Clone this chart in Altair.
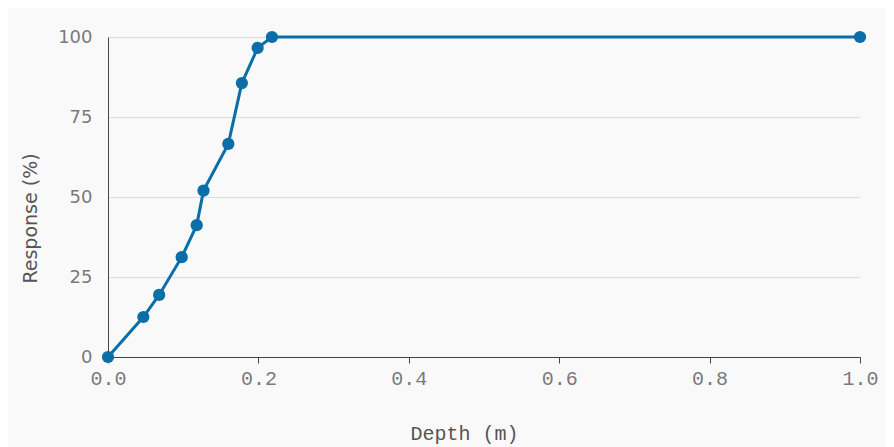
import altair as alt
import pandas as pd

depth = [0.0, 0.047, 0.068, 0.098, 0.118, 0.127, 0.16, 0.178, 0.199, 0.218, 1.0]
response = [0, 12.5, 19.4, 31.2, 41.2, 52, 66.6, 85.6, 96.6, 100, 100]

df = pd.DataFrame({"depth": depth, "response": response})

color = "#0a6ea8"

base = alt.Chart(df).encode(
    x=alt.X(
        "depth:Q",
        scale=alt.Scale(domain=[0, 1], nice=False),
        axis=alt.Axis(
            title="Depth (m)",
            values=[0, 0.2, 0.4, 0.6, 0.8, 1.0],
            format=".1f",
            grid=False,
            domainColor="#444",
            tickColor="#444",
            tickSize=6,
            labelFlush=False,
            labelFont="Liberation Mono",
            labelFontSize=20,
            labelColor="#7a7a7a",
            labelPadding=5,
            titleFont="Liberation Mono",
            titleFontSize=20,
            titleFontWeight="normal",
            titleColor="#555",
            titleX=356,
            titleY=76,
            titleBaseline="middle",
            titleAlign="center",
        ),
    ),
    y=alt.Y(
        "response:Q",
        scale=alt.Scale(domain=[0, 100], nice=False),
        axis=alt.Axis(
            title="Response (%)",
            values=[0, 25, 50, 75, 100],
            grid=True,
            gridColor="#dddddd",
            domainColor="#444",
            ticks=False,
            labelFont="DejaVu Sans",
            labelFontSize=18,
            labelColor="#7a7a7a",
            labelPadding=16,
            titleFont="DejaVu Sans",
            titleFontSize=19,
            titleFontWeight="normal",
            titleColor="#555",
            titleAngle=-90,
            titleX=-78,
            titleY=181,
            titleBaseline="middle",
            titleAlign="center",
        ),
    ),
)

line = base.mark_line(color=color, strokeWidth=3)
points = base.mark_point(color=color, filled=True, opacity=1, size=150)

chart = (
    (line + points)
    .properties(
        width=752,
        height=320,
        background="#f9f9f9",
        autosize=alt.AutoSizeParams(type="none"),
        padding={"left": 100, "top": 29, "right": 26, "bottom": 90},
    )
    .configure_view(stroke=None)
)

chart.save("out.html", embed_options={"renderer": "svg", "actions": False})
